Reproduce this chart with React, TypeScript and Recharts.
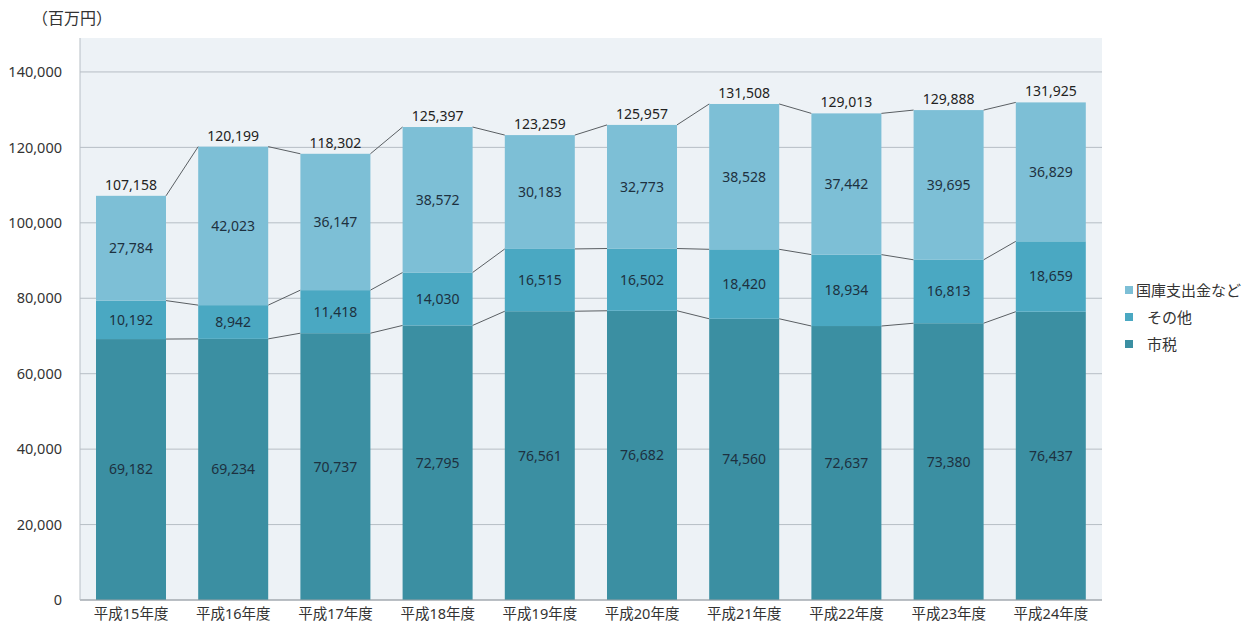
import React from 'react';
import { BarChart, Bar, XAxis, YAxis, CartesianGrid, LabelList } from 'recharts';

const years = ['平成15年度', '平成16年度', '平成17年度', '平成18年度', '平成19年度', '平成20年度', '平成21年度', '平成22年度', '平成23年度', '平成24年度'];
const shizei = [69182, 69234, 70737, 72795, 76561, 76682, 74560, 72637, 73380, 76437];
const sonota = [10192, 8942, 11418, 14030, 16515, 16502, 18420, 18934, 16813, 18659];
const kokko = [27784, 42023, 36147, 38572, 30183, 32773, 38528, 37442, 39695, 36829];
const totals = [107158, 120199, 118302, 125397, 123259, 125957, 131508, 129013, 129888, 131925];
const yTicks = [0, 20000, 40000, 60000, 80000, 100000, 120000, 140000];

const W = 1252, H = 627;
const M = { top: 38, right: 150, left: 0, bottom: 0 };
const Y_W = 80;
const PLOT_W = W - M.right - M.left - Y_W;
const BAND = PLOT_W / years.length;

const COLORS = { shizei: '#3b8fa2', sonota: '#4aa8c2', kokko: '#7dbfd6' };
const FONT = "'Noto Sans', 'Noto Sans CJK JP', sans-serif";

const data = years.map((y, i) => ({
  name: y,
  shizei: shizei[i],
  sonota: sonota[i],
  kokko: kokko[i],
  total: totals[i],
}));

// cumulative top of each stack level, per category
const levels = [
  shizei,
  shizei.map((v, i) => v + sonota[i]),
  shizei.map((v, i) => v + sonota[i] + kokko[i]),
];

const makeShape = (level: number, fill: string) => (props: any) => {
  const { x, y, width, height, index } = props;
  const hi = levels[level][index];
  const lo = level === 0 ? 0 : levels[level - 1][index];
  const k = height / (hi - lo);
  const base = y + height + lo * k;
  const next = levels[level][index + 1];
  return (
    <g>
      <rect x={x} y={y} width={width} height={height} fill={fill} />
      {next !== undefined && (
        <line x1={x + width} y1={y} x2={x + BAND} y2={base - next * k} stroke="#5a5f63" strokeWidth={1} />
      )}
    </g>
  );
};

const legendItems = [
  { label: '国庫支出金など', color: COLORS.kokko },
  { label: 'その他', color: COLORS.sonota },
  { label: '市税', color: COLORS.shizei },
];

const fmt = (v: any) => Number(v).toLocaleString('en-US');
const labelStyle = { fontSize: 14, fill: '#1d3140', fontFamily: FONT };

export default function App() {
  return (
    <div style={{ position: 'fixed', left: 0, top: 0, width: W, height: H, background: '#fff' }}>
      <div style={{ position: 'absolute', left: 32, top: 5, fontFamily: FONT, fontSize: 16, color: '#333' }}>（百万円）</div>
      <div style={{ position: 'absolute', left: 1125, top: 276, fontFamily: FONT, fontSize: 15, color: '#333' }}>
        {legendItems.map((it, i) => (
          <div key={it.label} style={{ display: 'flex', alignItems: 'center', height: 27 }}>
            <span style={{ width: 8, height: 8, background: it.color, display: 'inline-block', marginRight: i === 0 ? 3 : 14 }} />
            <span>{it.label}</span>
          </div>
        ))}
      </div>
      <BarChart width={W} height={H} data={data} margin={M} barSize={70}>
        <CartesianGrid vertical={false} fill="#edf2f6" stroke="#b7bec5" horizontalValues={yTicks} />
        <XAxis
          dataKey="name"
          height={27}
          tickLine={false}
          axisLine={{ stroke: '#9aa0a5' }}
          tick={{ fontSize: 14.5, fill: '#333', fontFamily: FONT }}
          tickMargin={3}
        />
        <YAxis
          width={Y_W}
          domain={[0, 149000]}
          ticks={yTicks}
          tickFormatter={fmt}
          tickLine={false}
          axisLine={{ stroke: '#b7bec5' }}
          tick={{ fontSize: 14.5, fill: '#333', fontFamily: FONT }}
          tickMargin={12}
        />
        <Bar dataKey="shizei" stackId="a" fill={COLORS.shizei} shape={makeShape(0, COLORS.shizei)} isAnimationActive={false}>
          <LabelList dataKey="shizei" position="center" formatter={fmt} style={labelStyle} />
        </Bar>
        <Bar dataKey="sonota" stackId="a" fill={COLORS.sonota} shape={makeShape(1, COLORS.sonota)} isAnimationActive={false}>
          <LabelList dataKey="sonota" position="center" formatter={fmt} style={labelStyle} />
        </Bar>
        <Bar dataKey="kokko" stackId="a" fill={COLORS.kokko} shape={makeShape(2, COLORS.kokko)} isAnimationActive={false}>
          <LabelList dataKey="kokko" position="center" formatter={fmt} style={labelStyle} />
          <LabelList dataKey="total" position="top" offset={6} formatter={fmt} style={{ ...labelStyle, fill: '#222' }} />
        </Bar>
      </BarChart>
    </div>
  );
}
